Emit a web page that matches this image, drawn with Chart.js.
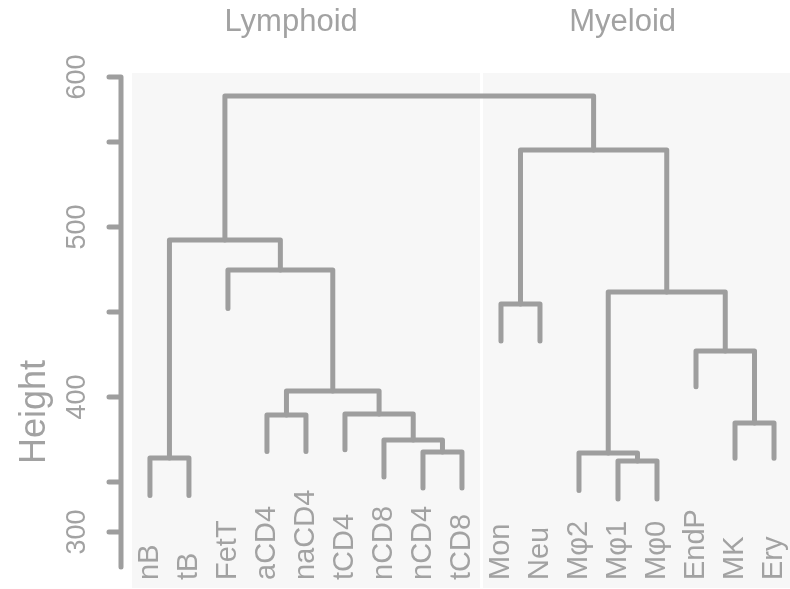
<!DOCTYPE html>
<html lang="en">
<head>
<meta charset="UTF-8">
<title>Cell type dendrogram</title>
<script src="https://cdn.jsdelivr.net/npm/chart.js"></script>
<style>
  body { margin: 0; background: #fff; }
  #wrap { width: 790px; height: 589px; }
</style>
</head>
<body>
<div id="wrap"><canvas id="chart" width="790" height="589"></canvas></div>
<script>
// leaves, left to right
const leafLabels = ['nB', 'tB', 'FetT', 'aCD4', 'naCD4', 'tCD4', 'nCD8', 'nCD4', 'tCD8',
                    'Mon', 'Neu', 'Mφ2', 'Mφ1', 'Mφ0', 'EndP', 'MK', 'Ery'];
const leafHeights = [342, 342, 452, 368, 368, 369, 353, 346.5, 346.5,
                     433, 433, 345, 340, 340, 406, 364, 364];

// merges, hclust style: negative = leaf (1-based), positive = earlier merge
const mergeLeft    = [-8, -7, -6, -4, 4, -3, -1, 7, -13, -12, -16, -15, 10, -10, 14, 8];
const mergeRight   = [-9, 1, 2, -5, 3, 5, -2, 6, -14, 9, -17, 11, 12, -11, 13, 15];
const mergeHeights = [367.6, 374.7, 390.0, 389.4, 403.5, 474.7, 364.1, 492.4,
                      362.4, 367.1, 384.7, 427.1, 461.8, 454.7, 545.3, 577.1];

const groupNames = ['Lymphoid', 'Myeloid'];
const groupSizes = [9, 8];

const yTickValues = [320.6, 350, 400, 450, 500, 550, 588.2];
const yTickLabels = ['300', '', '400', '', '500', '', '600'];
const yAxisEnds = [300, 588.2];

const LINE = '#9e9e9e';
const TEXT = '#a2a2a2';
const FONT = '"Liberation Sans", Arial, sans-serif';

// build the U shapes
const mergeX = [];
function child(k) {
    if (k < 0) return { x: -k - 1, y: leafHeights[-k - 1] };
    return { x: mergeX[k - 1], y: mergeHeights[k - 1] };
}
const datasets = mergeHeights.map((h, i) => {
    const a = child(mergeLeft[i]);
    const b = child(mergeRight[i]);
    mergeX[i] = (a.x + b.x) / 2;
    return {
        data: [{ x: a.x, y: a.y }, { x: a.x, y: h }, { x: b.x, y: h }, { x: b.x, y: b.y }],
        showLine: true,
        borderColor: LINE,
        borderWidth: 5,
        borderCapStyle: 'round',
        borderJoinStyle: 'round',
        pointRadius: 0,
        tension: 0,
        clip: false
    };
});

const decor = {
    id: 'decor',
    beforeDatasetsDraw(chart) {
        const { ctx, chartArea, scales: { x, y } } = chart;
        const cut = groupSizes[0] - 0.5;
        ctx.save();
        ctx.fillStyle = '#f7f7f7';
        const xb1 = x.getPixelForValue(cut - 0.04);
        const xb2 = x.getPixelForValue(cut + 0.04);
        ctx.fillRect(chartArea.left, chartArea.top, xb1 - chartArea.left, chartArea.bottom - chartArea.top);
        ctx.fillRect(xb2, chartArea.top, chartArea.right - xb2, chartArea.bottom - chartArea.top);
        ctx.restore();
    },
    afterDraw(chart) {
        const { ctx, scales: { x, y } } = chart;
        ctx.save();
        // y axis
        ctx.strokeStyle = LINE;
        ctx.lineWidth = 5;
        ctx.lineCap = 'round';
        const ax = 121;
        ctx.beginPath();
        ctx.moveTo(ax, y.getPixelForValue(yAxisEnds[0]));
        ctx.lineTo(ax, y.getPixelForValue(yAxisEnds[1]));
        yTickValues.forEach(v => {
            const py = y.getPixelForValue(v);
            ctx.moveTo(ax, py);
            ctx.lineTo(ax - 12, py);
        });
        ctx.stroke();

        ctx.fillStyle = TEXT;
        ctx.textBaseline = 'middle';
        ctx.textAlign = 'center';
        // tick labels
        ctx.font = '27px ' + FONT;
        yTickValues.forEach((v, i) => {
            if (!yTickLabels[i]) return;
            ctx.save();
            ctx.translate(78, y.getPixelForValue(v));
            ctx.rotate(-Math.PI / 2);
            ctx.fillText(yTickLabels[i], 0, 0);
            ctx.restore();
        });
        // axis title
        ctx.font = '36px ' + FONT;
        ctx.save();
        ctx.translate(35, 412);
        ctx.rotate(-Math.PI / 2);
        ctx.fillText('Height', 0, 0);
        ctx.restore();

        // leaf labels
        ctx.font = '29px ' + FONT;
        ctx.textAlign = 'left';
        leafLabels.forEach((lab, i) => {
            ctx.save();
            ctx.translate(x.getPixelForValue(i), 580);
            ctx.rotate(-Math.PI / 2);
            ctx.fillText(lab, 0, 0);
            ctx.restore();
        });

        // group titles
        ctx.font = '31px ' + FONT;
        ctx.textAlign = 'center';
        let start = 0;
        groupNames.forEach((g, i) => {
            const mid = start + (groupSizes[i] - 1) / 2 - 0.38;
            ctx.fillText(g, x.getPixelForValue(mid), 22);
            start += groupSizes[i];
        });
        ctx.restore();
    }
};

new Chart(document.getElementById('chart'), {
    type: 'scatter',
    data: { datasets },
    options: {
        responsive: false,
        animation: false,
        layout: { padding: { left: 132, right: 0, top: 73, bottom: 1 } },
        plugins: { legend: { display: false }, tooltip: { enabled: false } },
        scales: {
            x: { type: 'linear', display: false, min: -0.46, max: 16.41 },
            y: { type: 'linear', display: false, min: 287.65, max: 590.6 }
        }
    },
    plugins: [decor]
});
</script>
</body>
</html>
